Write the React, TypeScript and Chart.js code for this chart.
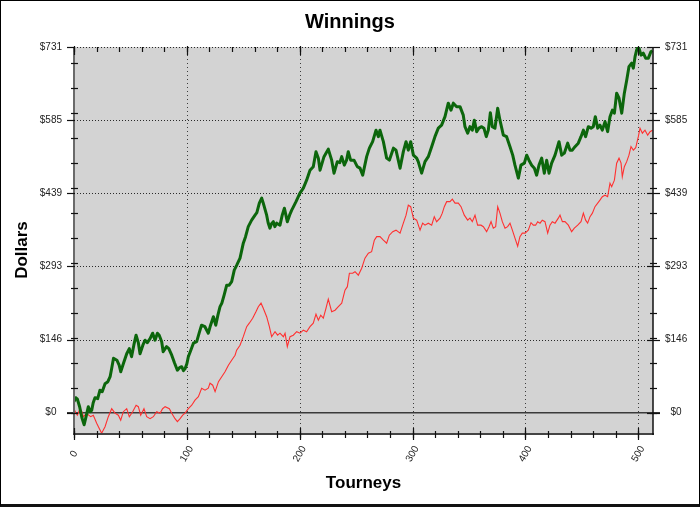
import React, { useEffect, useRef } from "react";
import { Chart, registerables } from "chart.js";

Chart.register(...registerables);

const chartTitle = "Winnings";
const xAxisTitle = "Tourneys";
const yAxisTitle = "Dollars";

const greenLabel = "Winnings";
const greenTourneys = [
  0, 1.5, 3, 5, 7, 9, 11, 12.7, 14.5, 15.7, 17, 18.6, 21, 23, 25, 27.5, 30, 32, 33.5, 35, 38, 40, 41.4, 44, 46.7, 49, 51, 53, 55, 57, 58.5, 61, 63, 65, 67.4, 69.7, 71.8, 73.9, 75.5, 77.7, 79, 82, 84, 86.6, 89, 91.6, 93.5, 95.4, 97, 98.4, 100, 101.3, 103.5, 105.8, 108.7, 111, 113, 116, 119, 121, 123.5, 125.6, 127.5, 129.4, 131, 133, 135.3, 137.5, 139.7, 142, 144.2, 147.1,
  150, 152, 154.4, 157.4, 160.4, 162, 164.2, 166.3, 167.7, 170.7, 172, 173.6, 175, 176.6, 178, 179.6, 182.5, 184.5, 186.4, 189, 191, 192.9, 194.5, 196.7, 200.2, 203.2, 206.1, 209.1, 212, 214.4, 216.5, 218, 221.5, 223.5, 225.3, 228.3, 230.4, 233.3, 235.5, 237.2, 239.5, 241.5, 243, 245.1, 248.1, 251, 253.4, 255.8, 259.3, 261.7, 264.6, 267.6, 269.7, 271.1, 274.1, 277, 279.4, 283, 285.3, 288.9, 291.8, 294.2, 296.2, 298.3, 300.7, 303.6,
  305, 308, 311, 313.9, 316.9, 319.8, 322.8, 325.7, 328.7, 331.6, 334, 336.1, 339, 342, 344.9, 346.4, 348.8, 350.8, 352.9, 354.7, 356.8, 358.8, 361.2, 363.2, 365.3, 367.1, 368.9, 370.6, 373, 375.4, 377.4, 380.4, 383.3, 386.3, 388.7, 390.7, 393.7, 396, 399, 401.1, 403.1, 405.5, 407.9, 409.9, 412, 414.4, 416.7, 418.8, 420.9, 423.2, 426.2, 429.7, 432.1, 434.4, 437.4, 439.5, 441.5, 443.9, 446.8, 449.2, 451.3, 453.3, 455.7, 458.1, 460.1, 461.9, 464, 466, 468.1, 470.5, 472.8, 474.9, 477, 478.8, 480.8, 482.9, 485.3, 487.6, 489.7, 491.7, 494.1, 495.6, 497.1, 498.5, 499.5, 500.6, 502.4, 504.4, 506.5, 508.9, 511.2, 512.5,
];
const greenDollars = [
  22, 30, 27, 12, -10, -24, -5, 12, 2, 5, 20, 30, 28, 45, 42, 58, 62, 72, 90, 109, 105, 95, 82, 100, 118, 128, 112, 135, 155, 140, 118, 135, 145, 140, 148, 159, 145, 159, 155, 142, 122, 132, 128, 115, 100, 85, 90, 92, 84, 88, 98, 112, 125, 139, 142, 160, 175, 172, 159, 175, 192, 175, 195, 212, 219, 235, 255, 255, 262, 285, 295, 309,
  339, 352, 372, 385, 395, 400, 419, 429, 419, 395, 380, 369, 378, 382, 372, 379, 375, 395, 409, 382, 395, 405, 412, 422, 439, 449, 465, 485, 492, 522, 509, 485, 512, 520, 527, 505, 479, 502, 500, 512, 495, 505, 522, 505, 505, 492, 489, 475, 512, 529, 542, 565, 552, 565, 542, 509, 505, 529, 525, 489, 522, 542, 525, 542, 515, 509,
  502, 479, 502, 512, 532, 552, 569, 575, 592, 619, 605, 619, 612, 612, 595, 572, 559, 572, 565, 585, 562, 569, 572, 569, 552, 565, 600, 572, 569, 609, 585, 555, 552, 532, 515, 495, 469, 495, 499, 515, 505, 495, 489, 475, 495, 509, 479, 505, 479, 499, 515, 542, 515, 519, 539, 525, 525, 532, 539, 552, 565, 552, 572, 569, 572, 592, 569, 575, 565, 582, 562, 592, 605, 599, 639, 629, 599, 639, 665, 692, 699, 689, 712, 725, 731, 729, 715, 719, 709, 709, 722, 724,
];

const redLabel = "Winnings (cash)";
const redTourneys = [
  0, 1.5, 3, 5.3, 7, 8.3, 11.2, 13, 14.8, 17.1, 20.1, 22.5, 24.5, 27.5, 30.4, 33.4, 36.3, 39.3, 41.4, 43.7, 46.7, 49, 52, 55, 57, 59.1, 62, 64.4, 67.4, 70.3, 73.3, 76.2, 78.5, 80.7, 84.5, 86.6, 89.5, 91.6, 94, 96.3, 98.4, 101.3, 104.3, 107.2, 110.2, 113.1, 116.1, 119, 120.5, 122.9, 125, 128, 130.9, 133.8, 136.8, 139.7, 142.7, 144.1, 147.1,
  150, 153, 155.3, 158.3, 161.2, 163.3, 165.7, 167.7, 170.7, 173.1, 175.1, 178.1, 180.4, 182.5, 185.5, 187, 189, 191.4, 194.3, 197.3, 200.2, 203.2, 206.1, 209.1, 212, 214.4, 216.5, 218.6, 220.9, 223.3, 225.3, 228.3, 231.3, 234.2, 237.2, 240.1, 242.2, 244, 246.9, 249, 251.9, 254.9, 257.8, 260.8, 263.7, 266.1, 268.2, 271.1, 274.1, 277, 279.4, 282.4, 285.3, 288.9, 291.8, 294.2, 296.2, 298.3, 300.7, 303.6, 306.6, 308.9, 311,
  313.9, 316.9, 319.2, 321.3, 324.3, 326.3, 328.1, 330.2, 333.1, 335.2, 337.6, 340.5, 342.9, 345.8, 348.8, 350.8, 352.9, 355.3, 357.6, 360.6, 362.7, 365.6, 367.7, 369.5, 371.5, 373.6, 375.4, 377.4, 379.5, 381.9, 384.2, 386.3, 388.4, 390.7, 393.1, 395.1, 397.2, 399.6, 402.5, 404.9, 407, 409, 410.8, 412.9, 414.9, 417.3, 419.7, 421.7, 423.8, 426.2, 429.1, 430.6, 432.7, 435, 438, 440.9, 443.3, 446.3, 449.2, 451.3, 453.3, 455.1, 457.2, 459.3, 461.6, 464, 466, 468.1, 470.5, 472.8, 474.9, 476.4, 478.8, 480.8, 482.9, 484.7, 485.8, 487.6, 489.7, 491.7, 493.5, 495.6, 497.7, 500, 501.5, 503.6, 505.9, 508.3, 510.4, 512.5,
];
const redDollars = [
  8, 0, -5, 8, 2, -8, -1, -5, -8, -5, -21, -32, -41, -28, -8, 8, -1, -5, -15, 2, 8, -8, 2, 15, 12, -5, 8, -8, -12, -8, 2, -1, 8, 12, 8, -1, -12, -18, -12, -5, -1, 8, 15, 25, 32, 49, 45, 49, 59, 55, 42, 62, 72, 82, 95, 105, 115, 125, 135,
  152, 172, 179, 189, 202, 212, 219, 209, 192, 172, 152, 162, 155, 159, 152, 159, 132, 152, 155, 162, 159, 165, 162, 172, 179, 197, 185, 195, 189, 209, 227, 202, 205, 212, 219, 245, 252, 279, 279, 282, 275, 289, 309, 319, 322, 345, 352, 352, 345, 339, 355, 362, 365, 359, 379, 395, 415, 412, 389, 385, 365, 379, 375,
  379, 375, 392, 382, 389, 399, 412, 422, 422, 427, 419, 419, 412, 395, 385, 389, 382, 395, 375, 375, 372, 362, 372, 382, 369, 372, 412, 399, 382, 369, 372, 379, 365, 349, 333, 352, 359, 359, 365, 380, 375, 375, 382, 379, 385, 382, 359, 375, 382, 379, 389, 395, 382, 382, 375, 362, 369, 375, 382, 399, 385, 379, 392, 399, 412, 419, 425, 432, 435, 432, 459, 452, 465, 499, 509, 499, 472, 492, 502, 515, 532, 525, 530, 552, 569, 559, 565, 555, 562, 565,
];

const xTickValues = [0, 100, 200, 300, 400, 500];
const xTickLabels = ["0", "100", "200", "300", "400", "500"];
const xMinorStep = 20;
const yTickValues = [0, 146.26, 292.52, 438.78, 585.04, 731.3];
const yTickLabels = ["$0", "$146", "$293", "$439", "$585", "$731"];
const yMinorStep = 50;
const xMin = 0;
const xMax = 513;
const yMin = -42.6;
const yMax = 731.3;

const FONT = '"Liberation Sans", Arial, sans-serif';

const decorPlugin = {
  id: "decor",
  beforeDraw(chart: any) {
    const { ctx, chartArea: a } = chart;
    ctx.save();
    ctx.fillStyle = "#d3d3d3";
    ctx.fillRect(a.left, a.top, a.right - a.left, a.bottom - a.top);
    ctx.restore();
  },
  beforeDatasetsDraw(chart: any) {
    const { ctx, chartArea: a, scales } = chart;
    const xs = scales.x;
    const ys = scales.y;
    ctx.save();
    ctx.lineWidth = 1;
    ctx.strokeStyle = "#3c3c3c";
    ctx.setLineDash([1, 3]);
    for (const v of xTickValues) {
      if (v <= xMin) continue;
      const px = Math.round(xs.getPixelForValue(v)) + 0.5;
      ctx.beginPath();
      ctx.moveTo(px, a.top);
      ctx.lineTo(px, a.bottom);
      ctx.stroke();
    }
    ctx.setLineDash([1, 2]);
    ctx.strokeStyle = "#2a2a2a";
    for (const v of yTickValues) {
      if (v === 0) continue;
      const py = Math.round(ys.getPixelForValue(v)) + 0.5;
      ctx.beginPath();
      ctx.moveTo(a.left, py);
      ctx.lineTo(a.right, py);
      ctx.stroke();
    }
    ctx.setLineDash([]);
    ctx.strokeStyle = "#3a3a3a";
    ctx.lineWidth = 1.5;
    const zy = ys.getPixelForValue(0);
    ctx.beginPath();
    ctx.moveTo(a.left - 7, zy);
    ctx.lineTo(a.right + 7, zy);
    ctx.stroke();
    ctx.restore();
  },
  afterDatasetsDraw(chart: any) {
    const { ctx, chartArea: a, scales } = chart;
    const xs = scales.x;
    const ys = scales.y;
    ctx.save();
    // axis lines
    ctx.setLineDash([]);
    ctx.lineWidth = 2;
    ctx.strokeStyle = "#6a6a6a";
    ctx.beginPath();
    ctx.moveTo(a.left, a.top);
    ctx.lineTo(a.left, a.bottom + 1);
    ctx.stroke();
    ctx.strokeStyle = "#444";
    ctx.beginPath();
    ctx.moveTo(a.left - 1, a.bottom);
    ctx.lineTo(a.right + 1, a.bottom);
    ctx.stroke();
    ctx.strokeStyle = "#111";
    ctx.lineWidth = 1.5;
    ctx.beginPath();
    ctx.moveTo(a.right, a.top);
    ctx.lineTo(a.right, a.bottom + 1);
    ctx.stroke();

    // tick marks
    ctx.strokeStyle = "#111";
    ctx.lineWidth = 1.2;
    const line = (x1: number, y1: number, x2: number, y2: number) => {
      ctx.beginPath();
      ctx.moveTo(x1, y1);
      ctx.lineTo(x2, y2);
      ctx.stroke();
    };
    for (let v = Math.ceil(yMin / yMinorStep) * yMinorStep; v <= yMax; v += yMinorStep) {
      if (v < yMin) continue;
      const py = Math.round(ys.getPixelForValue(v)) + 0.5;
      line(a.left - 3, py, a.left + 4, py);
      line(a.right - 3, py, a.right + 4, py);
    }
    for (const v of yTickValues) {
      const py = Math.round(ys.getPixelForValue(v)) + 0.5;
      line(a.left - 7, py, a.left + 1, py);
      line(a.right - 6, py, a.right + 7, py);
    }
    for (let v = xMin; v <= xMax; v += xMinorStep) {
      const px = Math.round(xs.getPixelForValue(v)) + 0.5;
      line(px, a.bottom - 3, px, a.bottom + 4);
      line(px, a.top, px, a.top + 5);
    }
    for (const v of xTickValues) {
      const px = Math.round(xs.getPixelForValue(v)) + 0.5;
      line(px, a.bottom - 6, px, a.bottom + 6);
      line(px, a.top - 1, px, a.top + 8);
    }

    // x tick labels (rotated, centred on tick)
    ctx.fillStyle = "#222";
    ctx.font = `10px ${FONT}`;
    ctx.textAlign = "center";
    ctx.textBaseline = "middle";
    xTickValues.forEach((v, i) => {
      const px = xs.getPixelForValue(v);
      ctx.save();
      ctx.translate(px, a.bottom + 20);
      ctx.rotate(-Math.PI / 3);
      ctx.fillText(xTickLabels[i], 0, 0);
      ctx.restore();
    });

    // titles
    ctx.fillStyle = "#000";
    ctx.font = `bold 20px ${FONT}`;
    ctx.fillText(chartTitle, chart.width / 2, 21);
    ctx.font = `bold 17px ${FONT}`;
    ctx.fillText(xAxisTitle, (a.left + a.right) / 2, 482);
    ctx.save();
    ctx.translate(21, 249);
    ctx.rotate(-Math.PI / 2);
    ctx.fillText(yAxisTitle, 0, 0);
    ctx.restore();
    ctx.restore();
  },
};

function yAxis(position: "left" | "right", width: number) {
  return {
    type: "linear",
    position,
    min: yMin,
    max: yMax,
    afterBuildTicks(scale: any) {
      scale.ticks = yTickValues.map((v) => ({ value: v }));
    },
    afterFit(scale: any) {
      scale.width = width;
    },
    ticks: {
      callback: (_v: any, i: number) => yTickLabels[i],
      font: { size: 10, family: FONT },
      color: "#222",
      padding: 12,
      crossAlign: "center",
      autoSkip: false,
    },
    grid: { display: false, drawTicks: false },
    border: { display: false },
  };
}

export default function App() {
  const ref = useRef<HTMLCanvasElement | null>(null);
  useEffect(() => {
    document.body.style.margin = "0";
    if (!ref.current) return;
    const chart = new Chart(ref.current, {
      type: "line",
      data: {
        datasets: [
          {
            label: greenLabel,
            data: greenTourneys.map((x, i) => ({ x, y: greenDollars[i] })),
            borderColor: "#0c660c",
            borderWidth: 3,
            pointRadius: 0,
            tension: 0,
            borderJoinStyle: "round",
            xAxisID: "x",
            yAxisID: "y",
          },
          {
            label: redLabel,
            data: redTourneys.map((x, i) => ({ x, y: redDollars[i] })),
            borderColor: "#ff3030",
            borderWidth: 1.1,
            pointRadius: 0,
            tension: 0,
            xAxisID: "x",
            yAxisID: "y",
          },
        ],
      },
      options: {
        responsive: false,
        maintainAspectRatio: false,
        devicePixelRatio: 1,
        animation: false,
        layout: { padding: { top: 46, left: 0, right: 0, bottom: 0 } },
        plugins: {
          legend: { display: false },
          title: { display: false },
          tooltip: { enabled: false },
        },
        scales: {
          x: {
            type: "linear",
            position: "bottom",
            min: xMin,
            max: xMax,
            ticks: { display: false },
            grid: { display: false, drawTicks: false },
            border: { display: false },
            afterFit(scale: any) {
              scale.height = 70;
            },
          },
          y: yAxis("left", 73),
          y2: yAxis("right", 46),
        } as any,
      },
      plugins: [decorPlugin],
    } as any);
    return () => chart.destroy();
  }, []);

  return (
    <div
      style={{
        position: "absolute",
        left: 0,
        top: 0,
        width: 700,
        height: 507,
        boxSizing: "border-box",
        borderTop: "1px solid #000",
        borderLeft: "1px solid #000",
        borderRight: "1px solid #000",
        borderBottom: "3px solid #111",
        background: "#fff",
      }}
    >
      <canvas ref={ref} width={698} height={503} style={{ display: "block", width: 698, height: 503 }} />
    </div>
  );
}
